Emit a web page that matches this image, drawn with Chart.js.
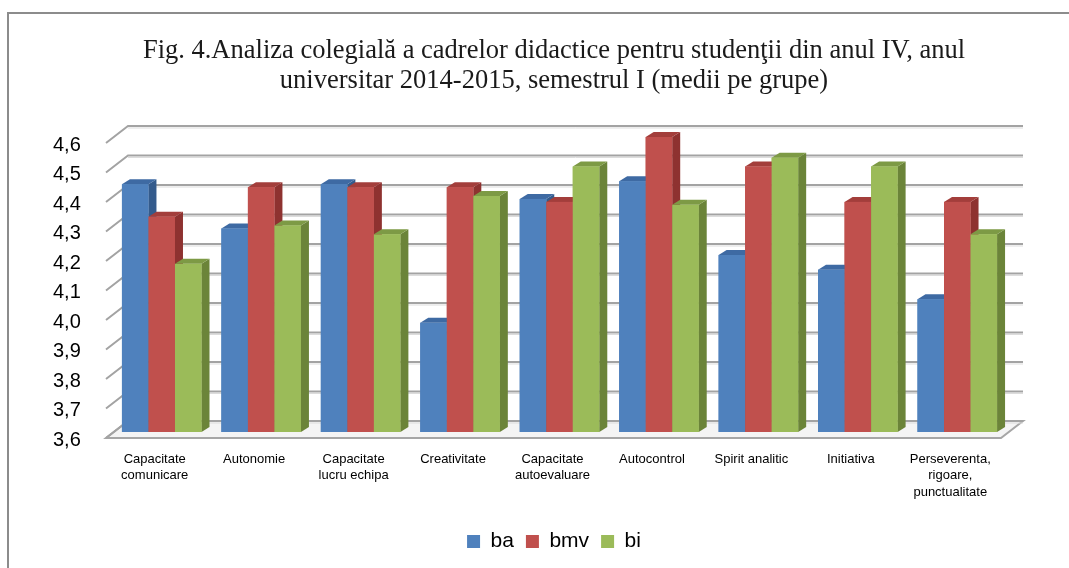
<!DOCTYPE html>
<html><head><meta charset="utf-8">
<script src="https://cdn.jsdelivr.net/npm/chart.js@4.4.0/dist/chart.umd.min.js"></script>
<style>html,body{margin:0;padding:0;background:#fff;}#wrap{width:1069px;height:568px;position:relative;}</style>
</head><body><div id="wrap"><canvas id="c" width="1069" height="568"></canvas></div>
<script>
const categories = [["Capacitate","comunicare"],"Autonomie",["Capacitate","lucru echipa"],"Creativitate",["Capacitate","autoevaluare"],"Autocontrol","Spirit analitic","Initiativa",["Perseverenta,","rigoare,","punctualitate"]];
const seriesNames = ["ba","bmv","bi"];
const ba  = [4.44,4.29,4.44,3.97,4.39,4.45,4.20,4.15,4.05];
const bmv = [4.33,4.43,4.43,4.43,4.38,4.60,4.50,4.38,4.38];
const bi  = [4.17,4.30,4.27,4.40,4.50,4.37,4.53,4.50,4.27];
const yMin = 3.6, yMax = 4.6, yStep = 0.1;
const titleLines = ["Fig. 4.Analiza colegială a cadrelor didactice pentru studenţii din anul IV, anul","universitar 2014-2015, semestrul I (medii pe grupe)"];

const frontColors = ["#4f81bd","#c0504d","#9bbb59"];
const sideColors  = ["#345b8c","#8e3230","#6b8439"];
const topColors   = ["#3e6aa3","#a33e3b","#7d9a45"];

const BAR_DX = 8, BAR_DY = -5;
const FR = {x:-6, y:6}, BK = {x:16, y:-11};
const PAD_LEFT = 101;

const threeD = {
  id:'threeD',
  beforeDraw(chart){
    const ctx = chart.ctx;
    ctx.save();
    ctx.strokeStyle = '#8c8c8c'; ctx.lineWidth = 2;
    ctx.strokeRect(8, 13, 1200, 700);
    ctx.restore();
  },
  beforeDatasetsDraw(chart){
    const ctx = chart.ctx, ys = chart.scales.y, xs = chart.scales.x;
    const L = xs.left, R = xs.right, B = ys.getPixelForValue(yMin);
    ctx.save();
    ctx.beginPath();
    ctx.moveTo(L+FR.x, B+FR.y); ctx.lineTo(R+FR.x, B+FR.y);
    ctx.lineTo(R+BK.x, B+BK.y); ctx.lineTo(L+BK.x, B+BK.y); ctx.closePath();
    ctx.fillStyle = '#f4f4f4'; ctx.fill();
    ctx.lineWidth = 2; ctx.strokeStyle = '#a6a6a6'; ctx.stroke();
    ys.ticks.forEach(t => {
      const y = ys.getPixelForValue(t.value);
      ctx.beginPath();
      ctx.moveTo(L+FR.x, y+FR.y); ctx.lineTo(L+BK.x, y+BK.y); ctx.lineTo(R+BK.x, y+BK.y);
      ctx.lineWidth = 2; ctx.strokeStyle = '#a3a3a3'; ctx.stroke();
      ctx.beginPath();
      ctx.moveTo(L+BK.x, y+BK.y+2); ctx.lineTo(R+BK.x, y+BK.y+2);
      ctx.lineWidth = 1; ctx.strokeStyle = '#dcdcdc'; ctx.stroke();
    });
    ctx.restore();
  },
  afterDatasetsDraw(chart){
    const ctx = chart.ctx;
    const n = categories.length;
    ctx.save();
    for (let i=0;i<n;i++){
      for (let d=0; d<3; d++){
        const el = chart.getDatasetMeta(d).data[i];
        const p = el.getProps(['x','y','base','width'], true);
        const x0 = p.x - p.width/2, x1 = p.x + p.width/2, y = p.y, b = p.base;
        ctx.beginPath();
        ctx.moveTo(x1,y); ctx.lineTo(x1+BAR_DX,y+BAR_DY); ctx.lineTo(x1+BAR_DX,b+BAR_DY); ctx.lineTo(x1,b); ctx.closePath();
        ctx.fillStyle = sideColors[d]; ctx.fill();
        ctx.beginPath();
        ctx.moveTo(x0,y); ctx.lineTo(x1,y); ctx.lineTo(x1+BAR_DX,y+BAR_DY); ctx.lineTo(x0+BAR_DX,y+BAR_DY); ctx.closePath();
        ctx.fillStyle = topColors[d]; ctx.fill();
        ctx.fillStyle = frontColors[d];
        ctx.fillRect(x0, y, p.width, b-y);
      }
    }
    ctx.restore();
  }
};

const fmt = v => (Math.round(v*10)/10).toFixed(1).replace('.',',');

new Chart(document.getElementById('c'), {
  type:'bar',
  data:{
    labels: categories,
    datasets:[
      {label:seriesNames[0], data:ba,  backgroundColor:frontColors[0], base:yMin},
      {label:seriesNames[1], data:bmv, backgroundColor:frontColors[1], base:yMin},
      {label:seriesNames[2], data:bi,  backgroundColor:frontColors[2], base:yMin}
    ]
  },
  options:{
    responsive:false, animation:false, devicePixelRatio:1,
    layout:{padding:{top:36,left:PAD_LEFT,right:62,bottom:6}},
    datasets:{bar:{categoryPercentage:0.8, barPercentage:1.0}},
    plugins:{
      title:{display:true, text:titleLines, color:'#1a1a1a', font:{family:'Liberation Serif', size:26.5, weight:'normal', lineHeight:1.132}, padding:{top:0,bottom:41}},
      legend:{position:'bottom', labels:{color:'#000', font:{family:'Liberation Sans', size:21}, boxWidth:13, boxHeight:13, padding:12}},
      tooltip:{enabled:false}
    },
    scales:{
      x:{
        grid:{display:false, drawTicks:false}, border:{display:false},
        ticks:{color:'#000', font:{family:'Liberation Sans', size:13, lineHeight:1.27}, maxRotation:0, autoSkip:false, padding:19, labelOffset:-7},
        afterFit(s){ s.height = 87; }
      },
      y:{
        min:yMin, max:yMax,
        grid:{display:false, drawTicks:false}, border:{display:false},
        ticks:{stepSize:yStep, color:'#000', font:{family:'Liberation Sans', size:20}, mirror:true, crossAlign:'near', padding:-59, labelOffset:8, callback:(v)=>fmt(v)},
        afterFit(s){ s.width = 112 - PAD_LEFT; }
      }
    }
  },
  plugins:[threeD]
});
</script></body></html>
